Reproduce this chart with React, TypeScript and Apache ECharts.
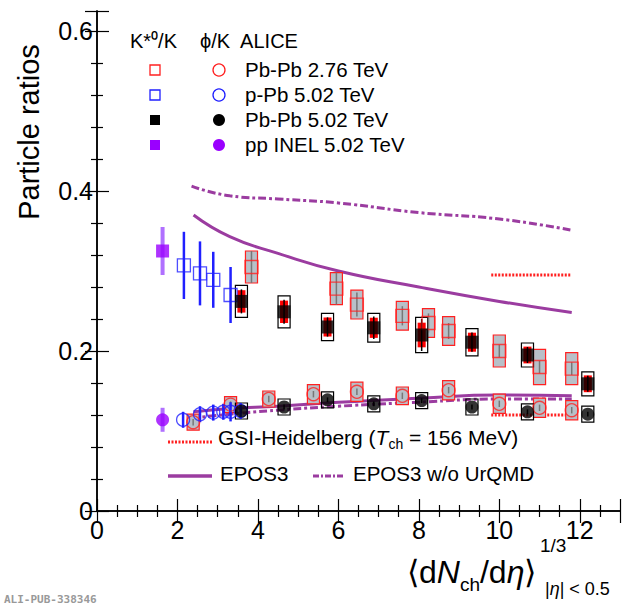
import React, { useEffect, useRef } from 'react';
import * as echarts from 'echarts';

// [x, y, stat, sys]
const kstarPbPb276 = [
  [3.84, 0.305, 0.02, 0.02], [5.95, 0.278, 0.02, 0.02], [6.46, 0.258, 0.015, 0.018],
  [7.59, 0.244, 0.012, 0.018], [8.24, 0.235, 0.012, 0.018], [8.74, 0.225, 0.01, 0.018],
  [10.0, 0.2, 0.008, 0.02], [11.0, 0.18, 0.008, 0.022], [11.8, 0.178, 0.008, 0.02],
];
const phiPbPb276 = [
  [2.39, 0.111, 0.004, 0.01], [3.32, 0.133, 0.004, 0.01], [4.27, 0.14, 0.004, 0.01],
  [5.38, 0.146, 0.004, 0.012], [6.46, 0.149, 0.004, 0.012], [7.59, 0.144, 0.004, 0.011],
  [8.74, 0.151, 0.004, 0.012], [10.0, 0.134, 0.004, 0.012], [11.0, 0.129, 0.004, 0.012],
  [11.8, 0.126, 0.004, 0.012],
];
const kstarPbPb502 = [
  [3.59, 0.262, 0.015, 0.02], [4.65, 0.249, 0.015, 0.02], [5.73, 0.23, 0.012, 0.017],
  [6.88, 0.229, 0.014, 0.018], [8.07, 0.22, 0.02, 0.022], [9.32, 0.211, 0.012, 0.017],
  [10.7, 0.195, 0.01, 0.015], [12.2, 0.159, 0.01, 0.015],
];
const phiPbPb502 = [
  [3.59, 0.125, 0.003, 0.01], [4.65, 0.13, 0.003, 0.01], [5.73, 0.139, 0.003, 0.01],
  [6.88, 0.134, 0.003, 0.01], [8.07, 0.138, 0.003, 0.01], [9.32, 0.13, 0.003, 0.01],
  [10.7, 0.124, 0.003, 0.01], [12.2, 0.121, 0.003, 0.01],
];
const kstarPPb = [
  [2.16, 0.307, 0.042], [2.56, 0.297, 0.04], [2.89, 0.289, 0.035], [3.32, 0.27, 0.035],
];
const phiPPb = [
  [2.14, 0.114, 0.01], [2.56, 0.121, 0.01], [2.89, 0.123, 0.01], [3.14, 0.124, 0.01],
  [3.32, 0.124, 0.012], [3.57, 0.125, 0.01],
];
const kstarPP = [[1.63, 0.325, 0.03]];
const phiPP = [[1.63, 0.114, 0.015]];

const eposX = [2.4, 3.3, 4.5, 6, 8, 10, 11.8];
const eposK = [0.37, 0.343, 0.322, 0.3, 0.28, 0.262, 0.248];
const eposPhi = [0.124, 0.128, 0.131, 0.136, 0.141, 0.145, 0.144];
const eposNoX = [2.35, 3.3, 4.5, 6, 8, 10, 11.8];
const eposNoK = [0.406, 0.394, 0.39, 0.385, 0.373, 0.365, 0.351];
const eposNoPhi = [0.116, 0.121, 0.126, 0.131, 0.136, 0.14, 0.14];
const gsiX = [9.8, 11.8];
const gsiK = 0.295;
const gsiPhi = 0.12;

const PURPLE = '#9b3ca0';

function boxes(data: number[][], fill: string, stroke: string, inner?: string, innerFrac = 0.7) {
  return {
    type: 'custom',
    z: 2,
    data,
    renderItem: (_p: any, api: any) => {
      const x = api.value(0), y = api.value(1), s = api.value(3);
      const a = api.coord([x - 0.15, y + s]);
      const b = api.coord([x + 0.15, y - s]);
      const children: any[] = [
        { type: 'rect', shape: { x: a[0], y: a[1], width: b[0] - a[0], height: b[1] - a[1] }, style: { fill, stroke, lineWidth: 1.2 } },
      ];
      if (inner) {
        const c = api.coord([x - 0.1, y + s * innerFrac]);
        const d = api.coord([x + 0.1, y - s * innerFrac]);
        children.push({ type: 'rect', shape: { x: c[0], y: c[1], width: d[0] - c[0], height: d[1] - c[1] }, style: { fill: inner } });
      }
      return { type: 'group', children };
    },
  };
}

function errs(data: number[][], color: string, width = 2) {
  return {
    type: 'custom',
    z: 3,
    data,
    renderItem: (_p: any, api: any) => {
      const x = api.value(0), y = api.value(1), e = api.value(2);
      const a = api.coord([x, y + e]);
      const b = api.coord([x, y - e]);
      return { type: 'line', shape: { x1: a[0], y1: a[1], x2: b[0], y2: b[1] }, style: { stroke: color, lineWidth: width } };
    },
  };
}

function pts(data: number[][], symbol: string, color: string, filled: boolean, size = 12) {
  return {
    type: 'scatter',
    z: 4,
    data: data.map((d) => [d[0], d[1]]),
    symbol,
    symbolSize: size,
    itemStyle: filled ? { color } : { color: 'rgba(0,0,0,0)', borderColor: color, borderWidth: 1.3 },
  };
}

function curve(xs: number[], ys: number[], type: string) {
  return {
    type: 'line',
    z: 1,
    data: xs.map((x, i) => [x, ys[i]]),
    symbol: 'none',
    smooth: true,
    lineStyle: { color: PURPLE, width: 3, type: type === 'solid' ? 'solid' : [8, 3, 3, 3] },
  };
}

function gsi(y: number) {
  return {
    type: 'line',
    z: 1,
    data: gsiX.map((x) => [x, y]),
    symbol: 'none',
    lineStyle: { color: '#ff2020', width: 3, type: [2, 1.5] },
  };
}

const App: React.FC = () => {
  const ref = useRef<HTMLDivElement | null>(null);

  useEffect(() => {
    if (!ref.current) return;
    const chart = echarts.init(ref.current, undefined, { renderer: 'svg' });
    const font = 'Liberation Sans, Arial, sans-serif';
    const legRows = [
      ['Pb-Pb 2.76 TeV', '#ff2020', false],
      ['p-Pb 5.02 TeV', '#2020ff', false],
      ['Pb-Pb 5.02 TeV', '#000000', true],
      ['pp INEL 5.02 TeV', '#9a00ff', true],
    ] as [string, string, boolean][];
    const legend: any[] = [
      { type: 'text', left: 130, top: 31, style: { text: 'K*⁰/K', font: `20px ${font}`, fill: '#000' } },
      { type: 'text', left: 200, top: 31, style: { text: 'ϕ/K  ALICE', font: `20px ${font}`, fill: '#000' } },
    ];
    legRows.forEach(([t, c, f], i) => {
      const yc = 70 + i * 25;
      legend.push({ type: 'rect', shape: { x: 150, y: yc - 5, width: 10, height: 10 }, style: f ? { fill: c } : { fill: 'none', stroke: c, lineWidth: 1.3 } });
      legend.push({ type: 'circle', shape: { cx: 219, cy: yc, r: 6 }, style: f ? { fill: c } : { fill: 'none', stroke: c, lineWidth: 1.3 } });
      legend.push({ type: 'text', left: 245, top: yc - 11, style: { text: t, font: `20.5px ${font}`, fill: '#000' } });
    });
    legend.push(
      { type: 'line', shape: { x1: 168, y1: 442, x2: 212, y2: 442 }, style: { stroke: '#ff2020', lineWidth: 3, lineDash: [2, 1.5] } },
      {
        type: 'text', left: 218, top: 427,
        style: {
          text: '{n|GSI-Heidelberg (}{i|T}{s|ch}{n| = 156 MeV)}',
          rich: { n: { font: `21px ${font}` }, i: { font: `italic 21px ${font}` }, s: { font: `14px ${font}`, padding: [12, 0, 0, 0] } },
        },
      },
      { type: 'line', shape: { x1: 168, y1: 476, x2: 212, y2: 476 }, style: { stroke: PURPLE, lineWidth: 3.5 } },
      { type: 'text', left: 220, top: 463, style: { text: 'EPOS3', font: `20.5px ${font}`, fill: '#000' } },
      { type: 'line', shape: { x1: 313, y1: 476, x2: 343, y2: 476 }, style: { stroke: PURPLE, lineWidth: 3, lineDash: [6, 2, 2, 2] } },
      { type: 'text', left: 353, top: 463, style: { text: 'EPOS3 w/o UrQMD', font: `20.5px ${font}`, fill: '#000' } },
      {
        type: 'text', x: 29, y: 132, rotation: Math.PI / 2, style: { text: 'Particle ratios', font: `29px ${font}`, fill: '#000', align: 'center', verticalAlign: 'middle' },
      },
      {
        type: 'text', left: 407, top: 556,
        style: {
          text: '{n|⟨d}{i|N}{s|ch}{n|/d}{i|η}{n|⟩}',
          rich: {
            n: { font: `32px ${font}` }, i: { font: `italic 32px ${font}` },
            s: { font: `19px ${font}`, padding: [24, 0, 0, 0] },
          },
        },
      },
      { type: 'text', left: 540, top: 536, style: { text: '1/3', font: `19px ${font}` } },
      {
        type: 'text', left: 545, top: 580,
        style: { text: '{n||}{i|η}{n|| < 0.5}', rich: { n: { font: `18px ${font}` }, i: { font: `italic 18px ${font}` } } },
      },
      { type: 'text', left: 4, top: 594, style: { text: 'ALI-PUB-338346', font: `bold 11px DejaVu Sans Mono, monospace`, fill: '#999' } },
    );

    const tick = { show: true, inside: true, length: 12, lineStyle: { color: '#000', width: 1.2 } };
    const minor = { show: true, splitNumber: 5, length: 6, lineStyle: { color: '#000', width: 1.2 } };

    chart.setOption({
      animation: false,
      grid: { left: 97, right: 15, top: 11, bottom: 100 },
      xAxis: [
        { type: 'value', min: 0, max: 13, interval: 2, axisLine: { show: true, onZero: false, lineStyle: { color: '#000', width: 1.5 } }, axisTick: tick, minorTick: { ...minor, splitNumber: 4 }, splitLine: { show: false }, axisLabel: { color: '#000', fontSize: 25, fontFamily: font, margin: 6, showMaxLabel: false } },
        { type: 'value', position: 'top', min: 0, max: 13, interval: 2, axisLine: { show: true, lineStyle: { color: '#000', width: 1.5 } }, axisTick: tick, minorTick: { ...minor, splitNumber: 4 }, splitLine: { show: false }, axisLabel: { show: false } },
      ],
      yAxis: [
        { type: 'value', min: 0, max: 0.625, interval: 0.2, axisLine: { show: true, onZero: false, lineStyle: { color: '#000', width: 1.5 } }, axisTick: tick, minorTick: minor, splitLine: { show: false }, axisLabel: { color: '#000', fontSize: 25, fontFamily: font, margin: 4, showMaxLabel: false, formatter: (v: number) => (v === 0 ? '0' : v.toFixed(1)) } },
        { type: 'value', position: 'right', min: 0, max: 0.625, interval: 0.2, axisLine: { show: true, lineStyle: { color: '#000', width: 1.5 } }, axisTick: tick, minorTick: minor, splitLine: { show: false }, axisLabel: { show: false } },
      ],
      series: [
        curve(eposX, eposK, 'solid'), curve(eposX, eposPhi, 'solid'),
        curve(eposNoX, eposNoK, 'dash'), curve(eposNoX, eposNoPhi, 'dash'),
        gsi(gsiK), gsi(gsiPhi),
        boxes(kstarPbPb276, '#b8c0c8', '#ff2020'), boxes(phiPbPb276, '#b8c0c8', '#ff2020'),
        boxes(kstarPbPb502, '#fff', '#000', '#ff0000'), boxes(phiPbPb502, 'none', '#000'),
        errs(kstarPbPb276, '#777', 1.5), errs(phiPbPb276, '#777', 1.5),
        errs(kstarPbPb502, '#000', 1.5), errs(phiPbPb502, '#000', 1.5),
        errs(kstarPPb, '#2020ff', 2.5), errs(phiPPb, '#2020ff', 2.5),
        errs(kstarPP, '#b070ff', 4), errs(phiPP, '#b070ff', 4),
        pts(kstarPbPb276, 'rect', '#ff2020', false, 13), pts(phiPbPb276, 'circle', '#ff2020', false, 13),
        pts(kstarPPb, 'rect', '#2020ff', false, 13), pts(phiPPb, 'circle', '#2020ff', false, 13),
        pts(kstarPbPb502, 'rect', '#000', true, 13), pts(phiPbPb502, 'circle', '#000', true, 13),
        pts(kstarPP, 'rect', '#9a00ff', true, 13), pts(phiPP, 'circle', '#9a00ff', true, 13),
      ],
      graphic: legend,
    });
    return () => chart.dispose();
  }, []);

  return <div ref={ref} style={{ position: 'absolute', left: 0, top: 0, width: '635px', height: '611px', background: '#fff' }} />;
};

export default App;
